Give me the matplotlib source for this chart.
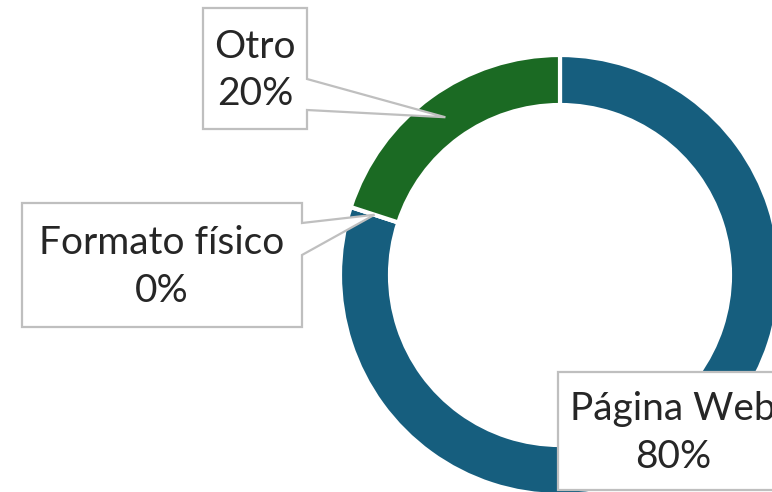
import matplotlib.pyplot as plt
import numpy as np
from matplotlib.patches import Polygon

# datos del gráfico
categorias = ['Página Web', 'Formato físico', 'Otro']
valores = [80, 0, 20]
colores = ['#165E7E', '#165E7E', '#1B6A23']

W, H = 772, 492
CX, CY, R = 560, 275, 220  # centro y radio del anillo en píxeles
ancho = 50 / R


def px(x, y):
    # pasa de píxeles de la imagen a coordenadas de datos
    return (x - CX) / R, (CY - y) / R


fig = plt.figure(figsize=(W / 100, H / 100), dpi=100)
ax = fig.add_axes([0, 0, 1, 1])

wedges, _ = ax.pie(valores, colors=colores, startangle=90, counterclock=False,
                   radius=1, wedgeprops=dict(width=ancho, edgecolor='white', linewidth=3))

ax.set_xlim(px(0, 0)[0], px(W, 0)[0])
ax.set_ylim(px(0, H)[1], px(0, 0)[1])
ax.set_aspect('equal', adjustable='box')
ax.axis('off')

# cajas de etiquetas: (izq, arriba, der, abajo) en píxeles, base del puntero (y1, y2)
cajas = {
    'Otro': ((203, 8, 307, 129), (79, 110)),
    'Formato físico': ((22, 203, 302, 327), (223, 255)),
    'Página Web': ((558, 372, 788, 490), None),
}

for w, nombre, v in zip(wedges, categorias, valores):
    (x0, y0, x1, y1), base = cajas[nombre]
    ang = np.deg2rad((w.theta1 + w.theta2) / 2)
    rr = 1 - ancho / 2
    tip = (rr * np.cos(ang), rr * np.sin(ang))
    pts = [px(x0, y0), px(x1, y0)]
    if base is not None:
        pts += [px(x1, base[0]), tip, px(x1, base[1])]
    pts += [px(x1, y1), px(x0, y1)]
    ax.add_patch(Polygon(pts, closed=True, facecolor='white', edgecolor='#BFBFBF',
                         linewidth=1.6, zorder=5, joinstyle='miter'))
    tx, ty = px((x0 + x1) / 2, (y0 + y1) / 2 + 2)
    ax.text(tx, ty, f'{nombre}\n{v}%', ha='center', va='center', fontsize=28,
            family='Lato', color='#262626', linespacing=1.38, zorder=6)

plt.savefig('out.png', dpi=100)
